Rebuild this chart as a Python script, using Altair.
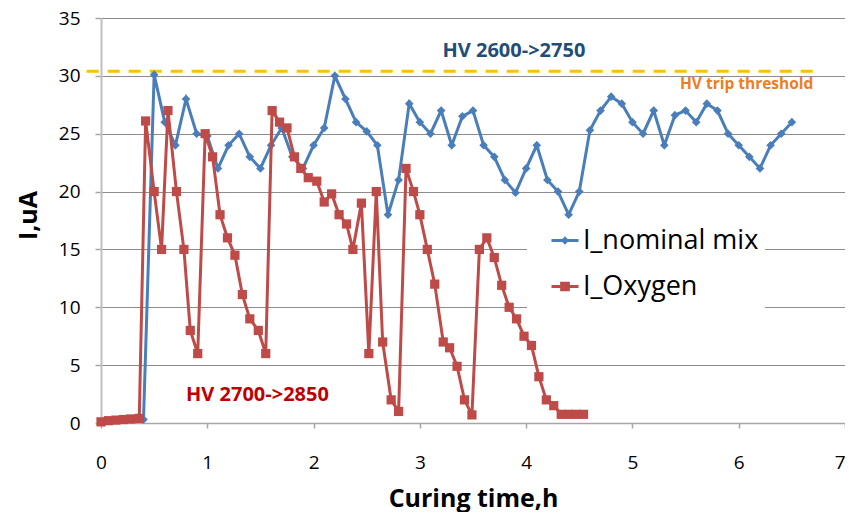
import altair as alt
import pandas as pd

# ---- data ----
blue_t = [0.4, 0.5, 0.6, 0.7, 0.8, 0.9, 1.0, 1.1, 1.2, 1.3, 1.4, 1.5, 1.6, 1.7, 1.8, 1.9,
          2.0, 2.1, 2.2, 2.3, 2.4, 2.5, 2.6, 2.7, 2.8, 2.9, 3.0, 3.1, 3.2, 3.3, 3.4, 3.5,
          3.6, 3.7, 3.8, 3.9, 4.0, 4.1, 4.2, 4.3, 4.4, 4.5, 4.6, 4.7, 4.8, 4.9, 5.0, 5.1,
          5.2, 5.3, 5.4, 5.5, 5.6, 5.7, 5.8, 5.9, 6.0, 6.1, 6.2, 6.3, 6.4, 6.5]
blue_i = [0.3, 30.1, 26, 24, 28, 25, 24.8, 22, 24, 25, 23, 22, 24, 25.5, 23, 22,
          24, 25.5, 30, 28, 26, 25.2, 24, 18, 21, 27.6, 26, 25, 27, 24, 26.5, 27,
          24, 23, 21, 19.9, 22, 24, 21, 20, 18, 20, 25.3, 27, 28.2, 27.6, 26, 25,
          27, 24, 26.6, 27, 26, 27.6, 27, 25, 24, 23, 22, 24, 25, 26]

red_t = [0, 0.07, 0.14, 0.21, 0.28, 0.36, 0.42, 0.50, 0.57, 0.63, 0.71, 0.78, 0.84, 0.91,
         0.98, 1.05, 1.12, 1.19, 1.26, 1.33, 1.40, 1.48, 1.55, 1.61, 1.68, 1.75, 1.82, 1.88,
         1.95, 2.03, 2.10, 2.17, 2.24, 2.31, 2.37, 2.45, 2.52, 2.59, 2.65, 2.73, 2.80, 2.87,
         2.94, 3.00, 3.07, 3.14, 3.22, 3.28, 3.35, 3.42, 3.49, 3.56, 3.63, 3.70, 3.77, 3.84,
         3.91, 3.98, 4.05, 4.12, 4.19, 4.26, 4.33, 4.40, 4.47, 4.54]
red_i = [0.1, 0.2, 0.25, 0.3, 0.35, 0.4, 26.1, 20, 15, 27, 20, 15, 8, 6,
         25, 23, 18, 16, 14.5, 11.1, 9, 8, 6, 27, 26, 25.5, 23, 22,
         21.2, 20.9, 19.1, 19.8, 18, 17.2, 15, 19, 6, 20, 7, 2, 1, 22,
         20, 18, 15, 12, 7, 6.5, 4.9, 2, 0.7, 15, 16, 14.3, 11.9, 10,
         9, 7.5, 6.7, 4, 2, 1.5, 0.75, 0.75, 0.75, 0.75]

series_names = ["I_nominal mix", "I_Oxygen"]
series_colors = ["#4A7EBB", "#BE4B48"]
x_ticks = [0, 1, 2, 3, 4, 5, 6, 7]
y_ticks = [0, 5, 10, 15, 20, 25, 30, 35]

threshold_value = 30.4
threshold_span = [-0.135, 6.745]

ann_labels = ["HV 2600->2750", "HV trip threshold", "HV 2700->2850"]
ann_t = [3.885, 5.447, 0.80]
ann_i = [31.64, 28.85, 1.92]

# ---- tables ----
blue_df = pd.DataFrame({"t": blue_t, "I": blue_i, "series": series_names[0]})
red_df = pd.DataFrame({"t": red_t, "I": red_i, "series": series_names[1]})
df = pd.concat([blue_df, red_df], ignore_index=True)

FONT = "Open Sans"
color_scale = alt.Scale(domain=series_names, range=series_colors)

x_enc = alt.X("t:Q", scale=alt.Scale(domain=[0, 7], nice=False),
              axis=alt.Axis(values=x_ticks, title="Curing time,h", grid=False,
                            labelFlush=False, labelOverlap=False,
                            labelAlign={"condition": {"test": "datum.value == 7", "value": "right"},
                                        "value": "center"},
                            domainColor="#A6A6A6", domainWidth=1.5,
                            tickColor="#A6A6A6", tickSize=5, tickWidth=1.5,
                            labelFontSize=19, labelBaseline="alphabetic", labelPadding=40,
                            titleFontSize=25, titleFontWeight="bold",
                            titleY=83, titleBaseline="alphabetic"))
y_enc = alt.Y("I:Q", scale=alt.Scale(domain=[0, 35], nice=False),
              axis=alt.Axis(values=y_ticks, title="I,uA", grid=True,
                            gridColor="#8C8C8C", gridWidth=1,
                            domainColor="#BFBFBF", domainWidth=2,
                            tickColor="#A6A6A6", tickSize=6, tickWidth=1.5,
                            labelFontSize=19, labelPadding=15,
                            titleFontSize=25, titleFontWeight="bold",
                            titleX=-65, titleY=197, titleAngle=270,
                            titleAlign="center", titleBaseline="alphabetic"))

threshold = alt.Chart(pd.DataFrame({"t": [threshold_span[0]], "t2": [threshold_span[1]],
                                    "I": [threshold_value]})).mark_rule(
    color="#FFC000", strokeWidth=3, strokeDash=[12, 9]).encode(
    x=x_enc, x2="t2:Q", y=y_enc)

blue_line = alt.Chart(blue_df).mark_line(strokeWidth=3, color=series_colors[0]).encode(
    x=x_enc, y=y_enc)
blue_pts = alt.Chart(blue_df).mark_point(
    shape="diamond", filled=True, size=75, opacity=1, color=series_colors[0]).encode(
    x=x_enc, y=y_enc)
red_line = alt.Chart(red_df).mark_line(strokeWidth=3, color=series_colors[1]).encode(
    x=x_enc, y=y_enc)
red_pts = alt.Chart(red_df).mark_point(
    shape="square", filled=True, size=85, opacity=1, color=series_colors[1]).encode(
    x=x_enc, y=y_enc)

# legend: symbols = short line with the series marker
legend_paths = [
    "M-1,-0.11L1,-0.11L1,0.11L-1,0.11ZM0,-0.32L0.3,0L0,0.32L-0.3,0Z",
    "M-1,-0.11L1,-0.11L1,0.11L-1,0.11ZM-0.36,-0.36L0.36,-0.36L0.36,0.36L-0.36,0.36Z",
]
legend_spec = alt.Legend(title=" ", titleOrient="bottom", titleFontSize=12, titlePadding=6)
legend_layer = alt.Chart(df).transform_filter("false").mark_point(filled=True, opacity=1).encode(
    x=x_enc, y=y_enc,
    color=alt.Color("series:N", scale=color_scale, legend=legend_spec),
    shape=alt.Shape("series:N", scale=alt.Scale(domain=series_names, range=legend_paths),
                    legend=legend_spec),
)

ann_colors = ["#1F4E79", "#EE7D22", "#C00000"]
ann_sizes = [20, 15.5, 20]
ann_align = ["center", "left", "left"]
texts = []
for k in range(len(ann_labels)):
    texts.append(
        alt.Chart(pd.DataFrame({"t": [ann_t[k]], "I": [ann_i[k]], "label": [ann_labels[k]]}))
        .mark_text(font=FONT, fontWeight="bold", fontSize=ann_sizes[k], color=ann_colors[k],
                   align=ann_align[k], baseline="alphabetic")
        .encode(x=x_enc, y=y_enc, text="label:N")
    )

chart = alt.layer(threshold, blue_line, blue_pts, red_line, red_pts, *texts, legend_layer).properties(
    width=744, height=405,
    autosize=alt.AutoSizeParams(type="none"),
    padding={"left": 93, "top": 10, "right": 0, "bottom": 89},
).configure_view(stroke=None).configure_axis(
    labelFont=FONT, titleFont=FONT, labelColor="#000000", titleColor="#000000",
).configure_legend(
    orient="none", legendX=426, legendY=202.5, padding=6, fillColor="white",
    labelFont=FONT, labelFontSize=27, labelColor="#000000", labelLimit=400,
    symbolOffset=18, labelOffset=4, titleFont=FONT,
    symbolSize=730, symbolStrokeWidth=0, rowPadding=19, symbolOpacity=1,
)

chart.save("out.html", embed_options={"renderer": "svg", "actions": False})
